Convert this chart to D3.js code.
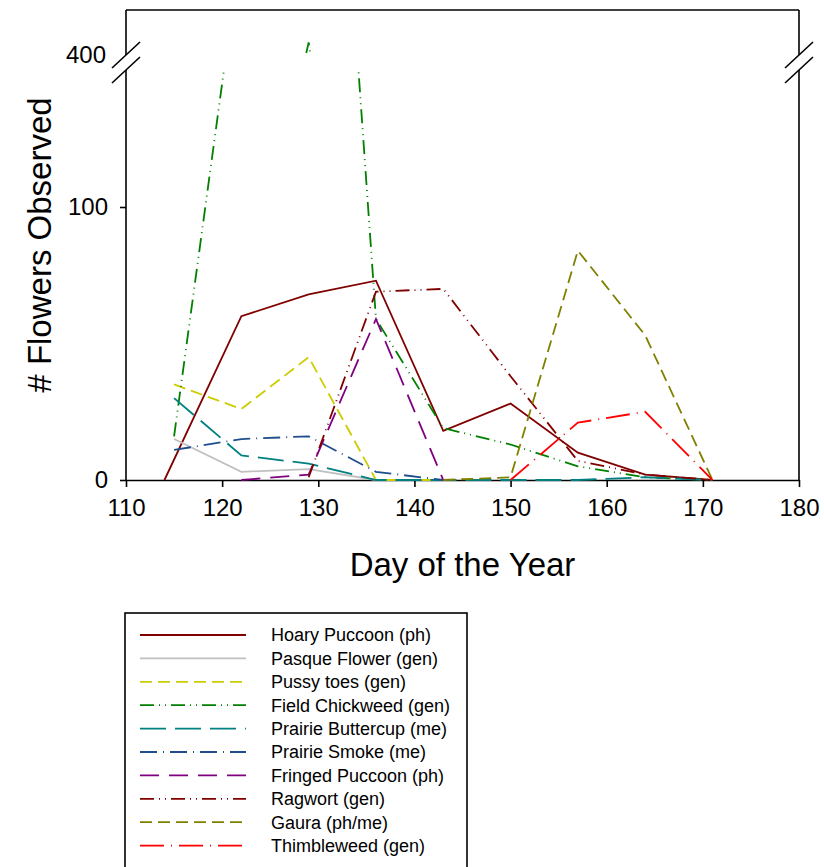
<!DOCTYPE html>
<html>
<head>
<meta charset="utf-8">
<script src="https://cdn.jsdelivr.net/npm/d3@7"></script>
<style>
  body { margin: 0; background: #fff; }
  svg { display: block; font-family: Arial, "Liberation Sans", sans-serif; }
</style>
</head>
<body>
<div id="chart"></div>
<script>
/* global d3 */

// Flower counts per survey day, one list per species
const seriesNames = [
  'Hoary Puccoon (ph)', 'Pasque Flower (gen)', 'Pussy toes (gen)',
  'Field Chickweed (gen)', 'Prairie Buttercup (me)', 'Prairie Smoke (me)',
  'Fringed Puccoon (ph)', 'Ragwort (gen)', 'Gaura (ph/me)', 'Thimbleweed (gen)'
];
const seriesDays = [
  [114, 122, 129, 136, 143, 150, 157, 164, 171],
  [115, 122, 129, 136],
  [115, 122, 129, 136, 143],
  [115, 122, 129, 136, 143, 150, 157, 164, 171],
  [115, 122, 129, 136, 143, 150, 157, 164, 171],
  [115, 122, 129, 136, 143],
  [122, 129, 136, 143],
  [129, 136, 143, 150, 157, 164, 171],
  [143, 150, 157, 164, 171],
  [150, 157, 164, 171]
];
const seriesValues = [
  [0, 60, 68, 73, 18, 28, 10, 2, 0],
  [15, 3, 4, 0],
  [35, 26, 45, 0, 0],
  [16, 197, 409, 59, 19, 13, 5, 1, 0],
  [30, 9, 6, 0, 0, 0, 0, 1, 0],
  [11, 15, 16, 3, 0],
  [0, 2, 59, 0],
  [1, 69, 70, 38, 7, 2, 0],
  [0, 1, 84, 53, 0],
  [0, 21, 25, 0]
];
const xTicks = [110, 120, 130, 140, 150, 160, 170, 180];
const yTicksLow = [0, 100];
const yTicksHigh = [400];

// styles
const seriesColors = ['#800000', '#c0c0c0', '#cccc00', '#008000', '#008080',
  '#1f4e8c', '#800080', '#800000', '#808000', '#ff0000'];
const seriesDashes = ['none', 'none', '12,6', '14,5,1,5,1,5', '26,9',
  '17,6,1,6', '19,10', '14,5,1,5,1,5', '12,6', '24,7,1,7'];

const width = 824;
const height = 867;
const plotLeft = 126, plotRight = 799, plotTop = 10, plotBottom = 480;
const lowTop = 70;     // top of lower segment (break start)
const highBottom = 55; // bottom of upper segment

const svg = d3.select('#chart').append('svg')
  .attr('width', width)
  .attr('height', height);

const x = d3.scaleLinear().domain([110, 180]).range([plotLeft, plotRight]);
const yLow = d3.scaleLinear().domain([0, 100]).range([plotBottom, 207]);
const yHigh = d3.scaleLinear().domain([400, 432]).range([highBottom, plotTop]);

// clip regions for the two axis segments
const defs = svg.append('defs');
defs.append('clipPath').attr('id', 'clip-low')
  .append('rect').attr('x', plotLeft).attr('y', lowTop)
  .attr('width', plotRight - plotLeft).attr('height', plotBottom - lowTop + 4);
defs.append('clipPath').attr('id', 'clip-high')
  .append('rect').attr('x', plotLeft).attr('y', plotTop)
  .attr('width', plotRight - plotLeft).attr('height', highBottom - plotTop);

// frame
const frame = svg.append('g').attr('stroke', '#000').attr('stroke-width', 1.6).attr('fill', 'none');
frame.append('line').attr('x1', plotLeft).attr('x2', plotRight).attr('y1', plotTop).attr('y2', plotTop);
[plotLeft, plotRight].forEach((xx) => {
  frame.append('line').attr('x1', xx).attr('x2', xx).attr('y1', plotTop).attr('y2', highBottom);
  frame.append('line').attr('x1', xx).attr('x2', xx).attr('y1', lowTop).attr('y2', plotBottom);
  // break marks
  frame.append('line').attr('x1', xx - 14).attr('x2', xx + 14)
    .attr('y1', highBottom + 13).attr('y2', highBottom - 13);
  frame.append('line').attr('x1', xx - 14).attr('x2', xx + 14)
    .attr('y1', lowTop + 13).attr('y2', lowTop - 13);
});

// x axis
const xAxis = svg.append('g')
  .attr('transform', `translate(0,${plotBottom})`)
  .call(d3.axisBottom(x).tickValues(xTicks).tickSize(7).tickSizeOuter(0).tickPadding(12));
xAxis.select('.domain').attr('stroke-width', 1.6);
xAxis.selectAll('.tick line').attr('stroke-width', 1.6);
xAxis.selectAll('text').style('font-size', '24px').attr('fill', '#000');

// y axis, lower segment
const yAxisLow = svg.append('g')
  .attr('transform', `translate(${plotLeft},0)`)
  .call(d3.axisLeft(yLow).tickValues(yTicksLow).tickSize(6).tickPadding(12));
yAxisLow.select('.domain').remove();
yAxisLow.selectAll('.tick line').attr('stroke-width', 1.6);
yAxisLow.selectAll('text').style('font-size', '24px').attr('fill', '#000');

// y axis, upper segment
const yAxisHigh = svg.append('g')
  .attr('transform', `translate(${plotLeft},0)`)
  .call(d3.axisLeft(yHigh).tickValues(yTicksHigh).tickSize(0).tickPadding(20));
yAxisHigh.select('.domain').remove();
yAxisHigh.selectAll('text').style('font-size', '24px').attr('fill', '#000');

// axis titles
svg.append('text')
  .attr('x', (plotLeft + plotRight) / 2)
  .attr('y', 576)
  .attr('text-anchor', 'middle')
  .style('font-size', '33px')
  .text('Day of the Year');

svg.append('text')
  .attr('transform', 'translate(51,245) rotate(-90)')
  .attr('text-anchor', 'middle')
  .style('font-size', '33px')
  .text('# Flowers Observed');

// data lines, drawn once per axis segment
const lineLow = d3.line().x((d) => x(d[0])).y((d) => yLow(d[1]));
const lineHigh = d3.line().x((d) => x(d[0])).y((d) => yHigh(d[1]));

seriesNames.forEach((name, i) => {
  const pts = seriesDays[i].map((day, j) => [day, seriesValues[i][j]]);
  [['clip-low', lineLow], ['clip-high', lineHigh]].forEach(([clip, gen]) => {
    svg.append('path')
      .attr('clip-path', `url(#${clip})`)
      .attr('d', gen(pts))
      .attr('fill', 'none')
      .attr('stroke', seriesColors[i])
      .attr('stroke-width', 1.8)
      .attr('stroke-dasharray', seriesDashes[i]);
  });
});

// legend
const legend = svg.append('g');
legend.append('rect')
  .attr('x', 125).attr('y', 613)
  .attr('width', 342).attr('height', 270)
  .attr('fill', '#fff')
  .attr('stroke', '#000')
  .attr('stroke-width', 1.6);

seriesNames.forEach((name, i) => {
  const yy = 635 + i * 23.4;
  legend.append('line')
    .attr('x1', 140).attr('x2', 246)
    .attr('y1', yy).attr('y2', yy)
    .attr('stroke', seriesColors[i])
    .attr('stroke-width', 1.8)
    .attr('stroke-dasharray', seriesDashes[i]);
  legend.append('text')
    .attr('x', 271).attr('y', yy)
    .attr('dy', '0.35em')
    .style('font-size', '18px')
    .text(name);
});
</script>
</body>
</html>
